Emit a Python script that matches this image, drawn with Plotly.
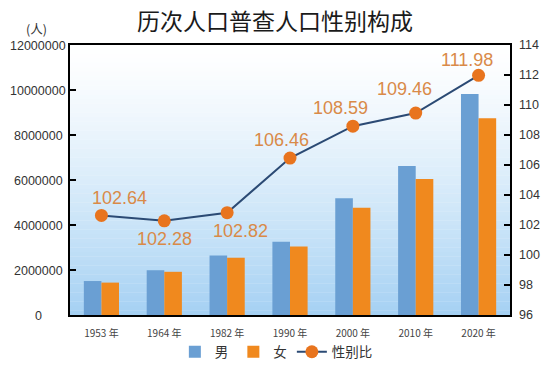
import plotly.graph_objects as go

# ---- data ----
years = ["1953 年", "1964 年", "1982 年", "1990 年", "2000 年", "2010 年", "2020 年"]
male = [1510000, 1990000, 2640000, 3260000, 5190000, 6620000, 9820000]
female = [1440000, 1920000, 2550000, 3040000, 4770000, 6040000, 8740000]
sex_ratio = [102.64, 102.28, 102.82, 106.46, 108.59, 109.46, 111.98]
left_ticks = [0, 2000000, 4000000, 6000000, 8000000, 10000000, 12000000]
right_ticks = [96, 98, 100, 102, 104, 106, 108, 110, 112, 114]

# label offsets (style)
label_dx = [18, 0, 13, -9, -12, -11, -12]
label_dy = [17, -18, -18, 18, 18, 24, 15]

FONT = "Liberation Sans, Arial, sans-serif"
CJK = "Noto Sans CJK SC, sans-serif"

fig = go.Figure()
fig.add_trace(go.Bar(x=years, y=male, name="男", marker=dict(color="#6a9fd3", line=dict(width=0)), yaxis="y"))
fig.add_trace(go.Bar(x=years, y=female, name="女", marker=dict(color="#f0891e", line=dict(width=0)), yaxis="y"))
fig.add_trace(go.Scatter(x=years, y=sex_ratio, name="性别比", mode="lines+markers", yaxis="y2",
                         line=dict(color="#2b4a74", width=2),
                         marker=dict(color="#e8741e", size=13, line=dict(width=0))))

# gradient background
shapes = []
n = 60
top = (255, 255, 255)
bot = (165, 209, 243)
for i in range(n):
    t = (i + 0.5) / n
    f = t ** 1.3
    c = tuple(int(round(top[k] + (bot[k] - top[k]) * f)) for k in range(3))
    shapes.append(dict(type="rect", xref="paper", yref="paper", x0=0, x1=1,
                       y0=1 - (i + 1) / n, y1=1 - i / n + 0.001,
                       fillcolor="rgb(%d,%d,%d)" % c, line=dict(width=0), layer="below"))

annotations = []
for i, (yr, v) in enumerate(zip(years, sex_ratio)):
    annotations.append(dict(x=yr, y=v, xref="x", yref="y2", text=f"{v:.2f}", showarrow=False,
                            xshift=label_dx[i], yshift=label_dy[i],
                            font=dict(family=FONT, size=18, color="#d98a48")))
for tv in left_ticks:
    annotations.append(dict(x=-0.0727, y=tv, xref="paper", yref="y", text=str(tv), showarrow=False,
                            xanchor="center", yanchor="middle", yshift=-1,
                            font=dict(family=FONT, size=12.5, color="#333333")))
for tv in right_ticks:
    annotations.append(dict(x=1, y=tv, xref="paper", yref="y2", text=str(tv), showarrow=False,
                            xanchor="left", yanchor="middle", xshift=7, yshift=0,
                            font=dict(family=FONT, size=12.5, color="#333333")))
annotations.append(dict(x=-0.077, y=1.018, xref="paper", yref="paper", text="(人)", showarrow=False,
                        xanchor="center", yanchor="bottom", font=dict(family=CJK, size=12.5, color="#333333")))

fig.update_layout(
    width=550, height=365,
    margin=dict(l=62, r=48, t=37, b=58, autoexpand=False),
    paper_bgcolor="white", plot_bgcolor="white",
    title=dict(text="历次人口普查人口性别构成", x=0.4855, xanchor="center", y=0.963, yanchor="middle",
               font=dict(family=CJK, size=23, color="#1a1a1a")),
    barmode="group", bargap=0.44, bargroupgap=0,
    xaxis=dict(type="category", showline=True, linecolor="black", linewidth=2, mirror=True,
               ticks="outside", ticklen=8, tickcolor="rgba(0,0,0,0)", showgrid=False,
               tickfont=dict(family=CJK, size=10, color="#444444")),
    yaxis=dict(range=[0, 12000000], tickvals=left_ticks, showticklabels=False, ticks="inside",
               ticklen=6, tickwidth=2, tickcolor="black", showline=True, linecolor="black",
               linewidth=2, mirror=True, showgrid=False, zeroline=False),
    yaxis2=dict(range=[96, 114], tickvals=right_ticks, overlaying="y", side="right", ticks="inside",
                ticklen=6, tickwidth=2, tickcolor="black", showline=True, linecolor="black",
                linewidth=2, showgrid=False, zeroline=False, showticklabels=False),
    legend=dict(orientation="h", x=0.469, xanchor="center", y=-0.137, yanchor="middle",
                font=dict(family=CJK, size=13.5, color="#333333"), bgcolor="rgba(0,0,0,0)"),
    shapes=shapes, annotations=annotations, showlegend=True,
)

fig.write_html("out.html")
